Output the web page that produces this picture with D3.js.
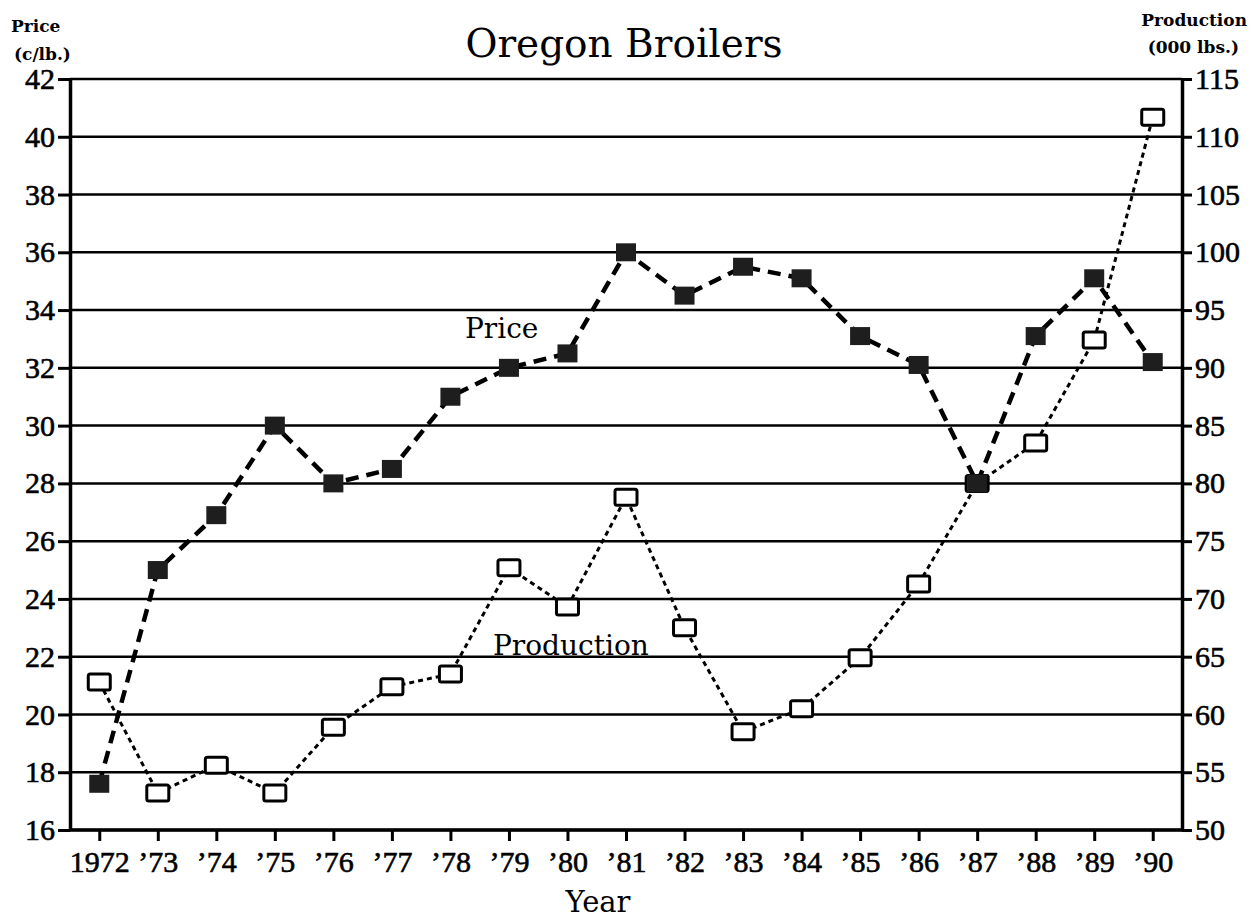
<!DOCTYPE html>
<html>
<head>
<meta charset="utf-8">
<script src="https://cdn.jsdelivr.net/npm/d3@7"></script>
<style>
  body { margin: 0; background: #fff; }
</style>
</head>
<body>
<svg width="1249" height="921"></svg>
<script>
// Year categories and tick labels
const years = [1972, 1973, 1974, 1975, 1976, 1977, 1978, 1979, 1980, 1981,
  1982, 1983, 1984, 1985, 1986, 1987, 1988, 1989, 1990];
const yearLabels = ["1972", "\u201973", "\u201974", "\u201975", "\u201976", "\u201977",
  "\u201978", "\u201979", "\u201980", "\u201981", "\u201982", "\u201983", "\u201984",
  "\u201985", "\u201986", "\u201987", "\u201988", "\u201989", "\u201990"];

// Price (c/lb.) - left axis
const price = [17.6, 25.0, 26.9, 30.0, 28.0, 28.5, 31.0, 32.0, 32.5, 36.0,
  34.5, 35.5, 35.1, 33.1, 32.1, 28.0, 33.1, 35.1, 32.2];

// Production (000 lbs.) - right axis
const production = [62.8, 53.2, 55.6, 53.2, 58.9, 62.4, 63.5, 72.7, 69.3, 78.8,
  67.5, 58.5, 60.5, 64.9, 71.3, 80.0, 83.5, 92.4, 111.7];

const leftTicks = d3.range(16, 43, 2);
const rightTicks = d3.range(50, 116, 5);

const serif = '"DejaVu Serif", serif';
const tickFont = '"Liberation Serif", serif';

const svg = d3.select("svg"),
  margin = { top: 79, right: 67, bottom: 91, left: 70 },
  width = +svg.attr("width"),
  height = +svg.attr("height");

const x = d3.scalePoint()
  .domain(years)
  .range([margin.left, width - margin.right])
  .padding(0.5);

const yL = d3.scaleLinear().domain([16, 42]).range([height - margin.bottom, margin.top]);
const yR = d3.scaleLinear().domain([50, 115]).range([height - margin.bottom, margin.top]);

// horizontal grid lines
svg.append("g")
  .selectAll("line")
  .data(leftTicks)
  .join("line")
  .attr("x1", margin.left)
  .attr("x2", width - margin.right)
  .attr("y1", (d) => yL(d))
  .attr("y2", (d) => yL(d))
  .attr("stroke", "#000")
  .attr("stroke-width", 2.5);

// left axis
const leftAxis = svg.append("g")
  .attr("transform", `translate(${margin.left},0)`)
  .call(d3.axisLeft(yL).tickValues(leftTicks).tickSize(12).tickSizeOuter(0).tickPadding(3));

// right axis
const rightAxis = svg.append("g")
  .attr("transform", `translate(${width - margin.right},0)`)
  .call(d3.axisRight(yR).tickValues(rightTicks).tickSize(10).tickSizeOuter(0).tickPadding(3));

// bottom axis
const bottomAxis = svg.append("g")
  .attr("transform", `translate(0,${height - margin.bottom})`)
  .call(d3.axisBottom(x).tickFormat((d, i) => yearLabels[i]).tickSize(11).tickSizeOuter(0).tickPadding(10));

[leftAxis, rightAxis, bottomAxis].forEach((g) => {
  g.attr("font-family", tickFont).attr("font-size", 30);
  g.select(".domain").attr("stroke", "#000").attr("stroke-width", 3.5);
  g.selectAll(".tick line").attr("stroke", "#000").attr("stroke-width", 3);
  g.selectAll(".tick text")
    .attr("fill", "#000")
    .attr("stroke", "#000")
    .attr("stroke-width", 0.6);
});
bottomAxis.select(".domain").attr("d", `M${margin.left},0H${width - margin.right}`);

// production line (dotted)
svg.append("path")
  .datum(production)
  .attr("fill", "none")
  .attr("stroke", "#000")
  .attr("stroke-width", 3)
  .attr("stroke-dasharray", "5,4")
  .attr("d", d3.line().x((d, i) => x(years[i])).y((d) => yR(d)));

// production markers (open boxes)
svg.append("g")
  .selectAll("rect")
  .data(production)
  .join("rect")
  .attr("x", (d, i) => x(years[i]) - 11)
  .attr("y", (d) => yR(d) - 8)
  .attr("width", 22)
  .attr("height", 16)
  .attr("rx", 2)
  .attr("fill", "#fff")
  .attr("stroke", "#000")
  .attr("stroke-width", 3);

// price line (thick dashed)
svg.append("path")
  .datum(price)
  .attr("fill", "none")
  .attr("stroke", "#000")
  .attr("stroke-width", 4.5)
  .attr("stroke-dasharray", "13,8")
  .attr("d", d3.line().x((d, i) => x(years[i])).y((d) => yL(d)));

// price markers (filled squares)
svg.append("g")
  .selectAll("rect")
  .data(price)
  .join("rect")
  .attr("x", (d, i) => x(years[i]) - 10)
  .attr("y", (d) => yL(d) - 9)
  .attr("width", 20)
  .attr("height", 18)
  .attr("fill", "#1e1e1e");

// helper for plain text
function label(xp, yp, txt, size, anchor, bold) {
  svg.append("text")
    .attr("x", xp)
    .attr("y", yp)
    .attr("text-anchor", anchor || "start")
    .attr("font-family", serif)
    .attr("font-size", size)
    .attr("font-weight", bold ? "bold" : "normal")
    .attr("fill", "#000")
    .text(txt);
}

// title
label(624, 57, "Oregon Broilers", 39, "middle");

// axis titles
label(11, 32, "Price", 17, "start", true);
label(14, 60, "(c/lb.)", 17, "start", true);
label(1247, 26, "Production", 17, "end", true);
label(1239, 53, "(000 lbs.)", 17, "end", true);

label(598, 912, "Year", 29, "middle");

// series labels
label(465, 338, "Price", 28);
label(493, 655, "Production", 28);
</script>
</body>
</html>
